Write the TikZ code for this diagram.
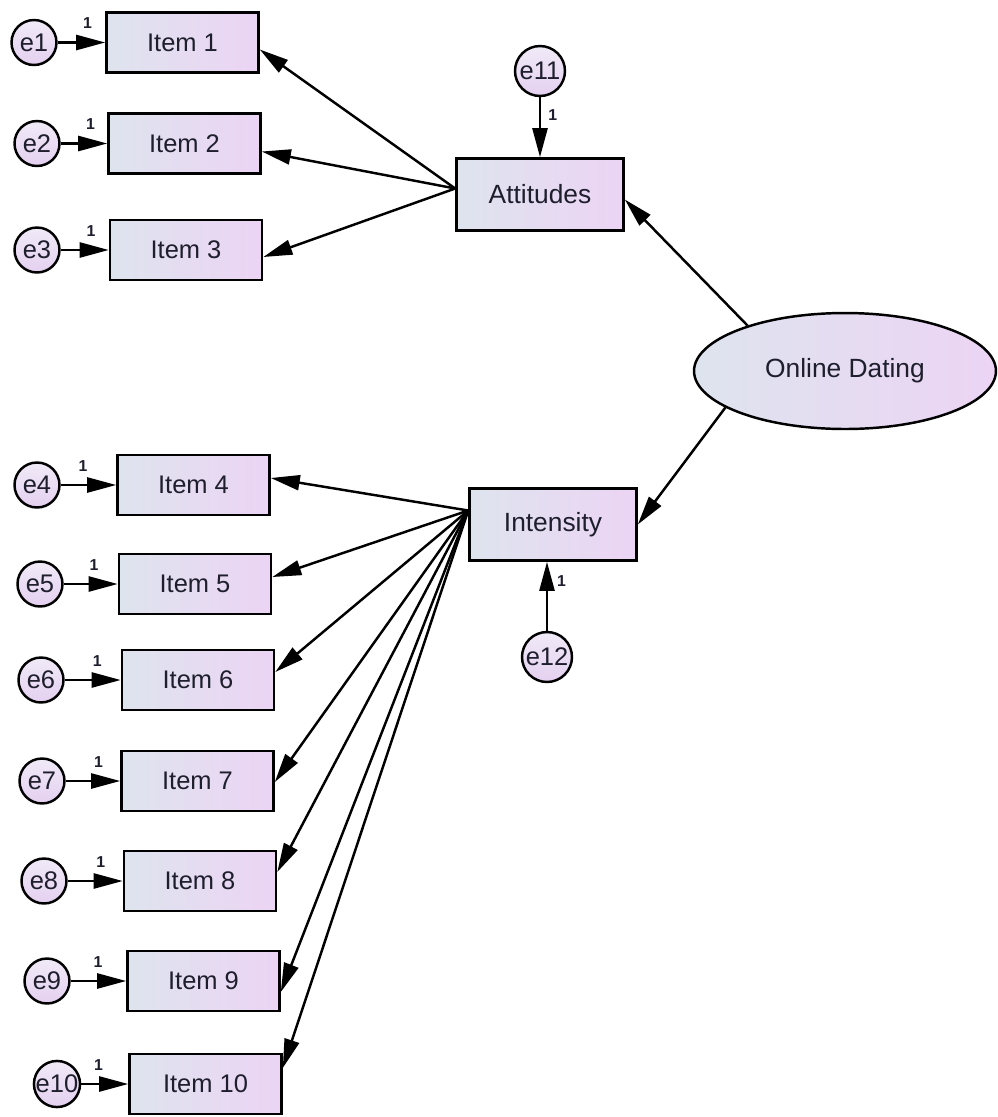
\documentclass[tikz,border=0pt]{standalone}
\usepackage{fontspec}
\setmainfont{Liberation Sans}
\usetikzlibrary{arrows.meta,shapes.geometric,calc}
\definecolor{boxL}{RGB}{222,228,238}
\definecolor{boxR}{RGB}{236,212,244}
\definecolor{circT}{RGB}{240,234,247}
\definecolor{circB}{RGB}{228,208,240}
\definecolor{txt}{RGB}{30,30,45}
\begin{document}
\begin{tikzpicture}[x=0.02cm,y=-0.02cm,
  obs/.style={draw=black, line width=1.5pt, left color=boxL, right color=boxR,
    minimum width=3.04cm, minimum height=1.2cm, inner sep=0pt,
    font=\fontsize{14.5}{16}\selectfont, text=txt},
  lat/.style={obs, minimum width=3.34cm, minimum height=1.44cm,
    font=\fontsize{15}{17}\selectfont},
  err/.style={circle, draw=black, line width=1.4pt, top color=circT, bottom color=circB,
    minimum size=0.9cm, inner sep=0pt, font=\fontsize{14.5}{16}\selectfont, text=txt},
  bigerr/.style={err, minimum size=1.0cm},
  fac/.style={ellipse, draw=black, line width=1.4pt, left color=boxL, right color=boxR,
    minimum width=6.04cm, minimum height=2.32cm, inner sep=0pt,
    font=\fontsize{15}{17}\selectfont, text=txt},
  arr/.style={line width=1.4pt, -{Triangle[length=0.58cm,width=0.3cm]}},
  one/.style={font=\bfseries\fontsize{9}{10}\selectfont, inner sep=1pt, text=txt}
]
\useasboundingbox (0,0) rectangle (998,1117);
\fill[white] (0,0) rectangle (998,1117);

% observed items
\node[obs] (I1) at (182.5,42.5) {Item 1};
\node[obs] (I2) at (184.5,143.5) {Item 2};
\node[obs] (I3) at (186,250) {Item 3};
\node[obs] (I4) at (193.5,485) {Item 4};
\node[obs] (I5) at (195,584) {Item 5};
\node[obs] (I6) at (198,680) {Item 6};
\node[obs] (I7) at (197.5,781) {Item 7};
\node[obs] (I8) at (200,881) {Item 8};
\node[obs] (I9) at (203.5,981) {Item 9};
\node[obs] (I10) at (205.5,1084) {Item 10};

% error terms
\node[err] (e1) at (34,42.5) {e1};
\node[err] (e2) at (37,143.5) {e2};
\node[err] (e3) at (37,250) {e3};
\node[err] (e4) at (37,485) {e4};
\node[err] (e5) at (40,584) {e5};
\node[err] (e6) at (41,680) {e6};
\node[err] (e7) at (42,781) {e7};
\node[err] (e8) at (44,881) {e8};
\node[err] (e9) at (47,981) {e9};
\node[err] (e10) at (57,1084) {e10};

% latent / composite
\node[lat] (Att) at (540,194.5) {Attitudes};
\node[lat] (Int) at (553,524.5) {Intensity};
\node[fac] (OD) at (845,371) {Online Dating};
\node[bigerr] (e11) at (540,71) {e11};
\node[bigerr] (e12) at (547,657) {e12};

% error arrows
\draw[arr] (e1) -- node[one, above=6pt, pos=0.63] {1} (I1);
\draw[arr] (e2) -- node[one, above=6pt, pos=0.64] {1} (I2);
\draw[arr] (e3) -- node[one, above=6pt, pos=0.63] {1} (I3);
\draw[arr] (e4) -- node[one, above=6pt, pos=0.40] {1} (I4);
\draw[arr] (e5) -- node[one, above=6pt, pos=0.56] {1} (I5);
\draw[arr] (e6) -- node[one, above=6pt, pos=0.58] {1} (I6);
\draw[arr] (e7) -- node[one, above=6pt, pos=0.60] {1} (I7);
\draw[arr] (e8) -- node[one, above=6pt, pos=0.60] {1} (I8);
\draw[arr] (e9) -- node[one, above=6pt, pos=0.49] {1} (I9);
\draw[arr] (e10) -- node[one, above=6pt, pos=0.37] {1} (I10);
\draw[arr] (e11) -- node[one, right=3pt, pos=0.3] {1} (Att);
\draw[arr] (e12) -- node[one, right=4pt, pos=0.72] {1} (e12 |- Int.south);

% Attitudes loadings
\draw[arr] ($(Att.west)+(0,-6)$) -- ($(I1.east)+(0,7)$);
\draw[arr] ($(Att.west)+(0,-6)$) -- ($(I2.east)+(0,8)$);
\draw[arr] ($(Att.west)+(0,-6)$) -- ($(I3.east)+(0,7)$);

% Intensity loadings
\draw[arr] ($(Int.west)+(0,-14)$) -- ($(I4.east)+(0,-7)$);
\draw[arr] ($(Int.west)+(0,-14)$) -- ($(I5.east)+(0,-7)$);
\draw[arr] ($(Int.west)+(0,-14)$) -- ($(I6.east)+(0,-8)$);
\draw[arr] ($(Int.west)+(0,-14)$) -- ($(I7.east)+(0,1)$);
\draw[arr] ($(Int.west)+(0,-14)$) -- ($(I8.east)+(0,-9)$);
\draw[arr] ($(Int.west)+(0,-14)$) -- ($(I9.east)+(0,11)$);
\draw[arr] ($(Int.west)+(0,-14)$) -- ($(I10.east)+(0,-16)$);

% factor to composites
\draw[arr] (OD.155) -- ($(Att.east)+(0,5)$);
\draw[arr] (OD.197) -- (Int.east);
\end{tikzpicture}
\end{document}
